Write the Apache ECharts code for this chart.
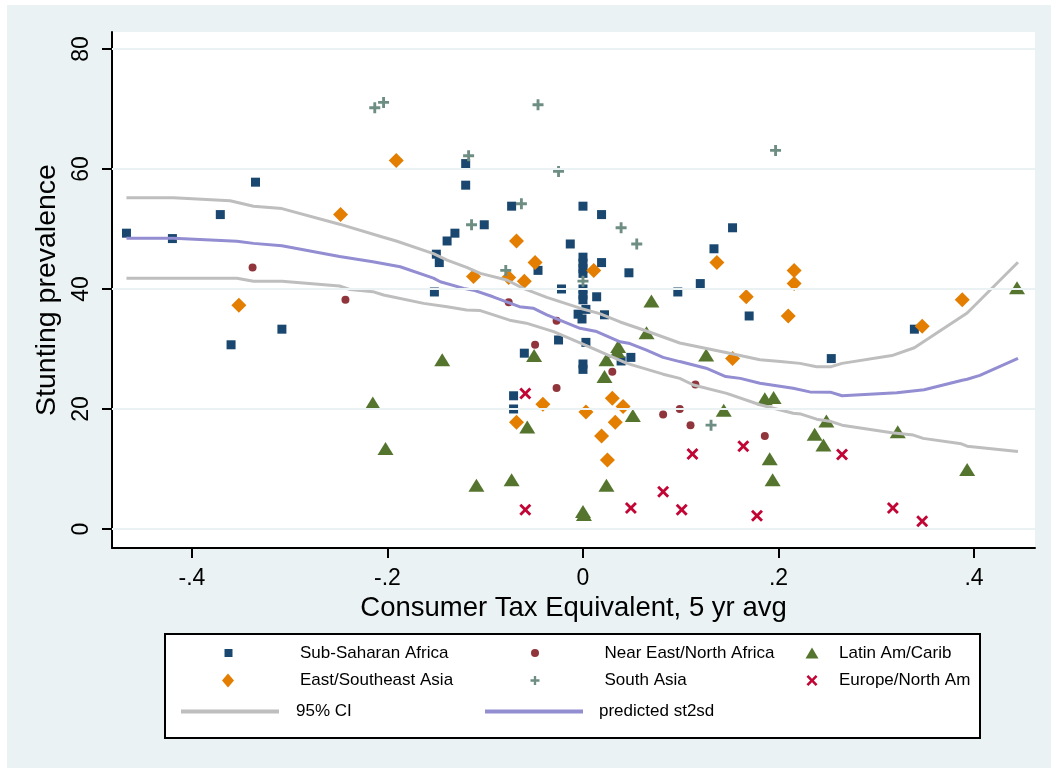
<!DOCTYPE html>
<html>
<head>
<meta charset="utf-8">
<title>Stunting prevalence vs Consumer Tax Equivalent</title>
<script src="https://cdn.jsdelivr.net/npm/echarts@6/dist/echarts.min.js"></script>
<style>
  html, body { margin: 0; padding: 0; background: #ffffff; }
  #chart { width: 1051px; height: 768px; }
</style>
</head>
<body>
<div id="chart"></div>
<script>
// Country observations: [consumer tax equivalent (5 yr avg), stunting prevalence]
const subSaharanAfrica = [
  [-0.467, 49.3], [-0.420, 48.4], [-0.335, 57.8], [-0.371, 52.4], [-0.308, 33.3], [-0.360, 30.7],
  [-0.120, 60.9], [-0.120, 57.3], [-0.073, 53.8], [-0.101, 50.7], [-0.131, 49.3], [-0.139, 48.0],
  [-0.013, 47.5], [-0.150, 45.8], [-0.147, 44.4], [-0.046, 43.1], [-0.022, 40.0], [-0.152, 39.5],
  [-0.025, 31.5], [-0.060, 29.3], [0.000, 53.8], [0.019, 52.4], [0.019, 44.4], [0.047, 42.7],
  [0.097, 39.5], [0.014, 38.7], [0.003, 36.6], [0.022, 35.7], [-0.005, 35.8], [-0.001, 35.0],
  [0.003, 31.1], [0.049, 28.6], [0.039, 28.0], [0.000, 27.5], [0.000, 26.6], [0.000, 45.3],
  [0.000, 44.3], [0.000, 43.4], [0.000, 42.6], [0.000, 40.0], [0.000, 39.0], [0.000, 38.2],
  [0.153, 50.2], [0.134, 46.7], [0.120, 40.9], [0.170, 35.5], [0.254, 28.4], [0.339, 33.3],
  [-0.071, 22.2], [-0.071, 20.0]
];
const nearEastNorthAfrica = [
  [-0.338, 43.6], [-0.243, 38.2], [-0.076, 37.8], [-0.027, 34.7], [-0.049, 30.7], [0.030, 26.2],
  [-0.027, 23.5], [0.115, 24.1], [0.082, 19.1], [0.099, 20.0], [0.110, 17.3], [0.186, 15.5]
];
const latinAmCarib = [
  [-0.144, 28.2], [-0.050, 28.9], [0.070, 38.0], [0.065, 32.7], [0.036, 30.4], [0.035, 29.6],
  [0.024, 28.2], [0.022, 25.4], [0.126, 29.0], [0.186, 21.7], [0.195, 21.9], [0.144, 19.8],
  [0.051, 18.9], [0.191, 11.7], [0.194, 8.2], [0.024, 7.3], [0.000, 2.9], [0.001, 2.4],
  [-0.215, 21.0], [-0.057, 17.0], [-0.202, 13.4], [-0.109, 7.3], [-0.073, 8.2], [0.249, 18.0],
  [0.237, 15.8], [0.246, 14.0], [0.322, 16.2], [0.393, 9.9], [0.444, 40.2]
];
const eastSoutheastAsia = [
  [-0.248, 52.4], [-0.352, 37.3], [-0.191, 61.4], [-0.068, 48.0], [-0.049, 44.4], [-0.112, 42.1],
  [-0.076, 41.9], [-0.060, 41.3], [0.011, 43.1], [0.137, 44.4], [0.216, 43.1], [0.216, 40.9],
  [0.167, 38.7], [0.210, 35.5], [0.153, 28.4], [0.347, 33.8], [0.388, 38.2], [0.030, 21.8],
  [0.003, 19.5], [0.041, 20.4], [0.033, 17.8], [0.019, 15.5], [0.025, 11.5], [-0.041, 20.8],
  [-0.068, 17.8]
];
const southAsia = [
  [-0.213, 70.2], [-0.204, 71.1], [-0.046, 70.7], [-0.117, 62.2], [-0.025, 59.6], [-0.063, 54.2],
  [-0.114, 50.7], [0.039, 50.2], [0.055, 47.5], [-0.079, 43.1], [0.000, 41.3], [0.197, 63.1],
  [0.131, 17.3]
];
const europeNorthAm = [
  [-0.059, 22.6], [-0.059, 3.2], [0.164, 13.8], [0.112, 12.5], [0.082, 6.2], [0.049, 3.5],
  [0.101, 3.2], [0.178, 2.2], [0.265, 12.4], [0.317, 3.5], [0.347, 1.3]
];

// Fitted curve and its 95% confidence band
const ciUpper = [
  [-0.467, 55.2], [-0.419, 55.2], [-0.361, 54.7], [-0.337, 53.8], [-0.308, 53.4], [-0.249, 50.8],
  [-0.206, 48.7], [-0.191, 48.0], [-0.153, 45.9], [-0.139, 44.8], [-0.119, 43.6], [-0.105, 42.6],
  [-0.078, 41.5], [-0.061, 40.1], [-0.037, 38.6], [-0.003, 36.8], [0.017, 35.9], [0.038, 34.5],
  [0.065, 33.0], [0.099, 31.0], [0.150, 29.3], [0.181, 28.2], [0.202, 27.9], [0.222, 27.6],
  [0.239, 27.05], [0.254, 27.05], [0.265, 27.6], [0.316, 28.9], [0.339, 30.2], [0.393, 36.0],
  [0.445, 44.45]
];
const predicted = [
  [-0.467, 48.45], [-0.419, 48.45], [-0.354, 47.95], [-0.337, 47.6], [-0.308, 47.2], [-0.249, 45.4],
  [-0.215, 44.55], [-0.187, 43.7], [-0.153, 41.8], [-0.146, 41.2], [-0.122, 40.1], [-0.112, 39.8],
  [-0.092, 38.7], [-0.065, 37.05], [-0.051, 36.8], [-0.037, 35.7], [-0.003, 33.45], [0.014, 32.9],
  [0.038, 31.2], [0.048, 30.9], [0.065, 29.8], [0.082, 28.6], [0.099, 27.9], [0.126, 26.8],
  [0.146, 25.4], [0.161, 25.1], [0.181, 24.3], [0.215, 23.45], [0.232, 22.85], [0.253, 22.8],
  [0.265, 22.2], [0.321, 22.7], [0.349, 23.2], [0.388, 24.8], [0.393, 24.95], [0.406, 25.6],
  [0.445, 28.45]
];
const ciLower = [
  [-0.467, 41.8], [-0.354, 41.8], [-0.337, 41.3], [-0.308, 41.3], [-0.249, 40.5], [-0.238, 39.9],
  [-0.215, 39.55], [-0.204, 39.0], [-0.163, 37.6], [-0.139, 37.05], [-0.119, 36.5], [-0.105, 36.4],
  [-0.075, 34.8], [-0.058, 34.3], [-0.030, 32.9], [-0.003, 31.0], [0.014, 29.8], [0.045, 27.6],
  [0.082, 25.8], [0.099, 25.1], [0.113, 24.0], [0.147, 22.6], [0.181, 20.7], [0.215, 19.3],
  [0.223, 19.15], [0.239, 18.3], [0.254, 17.9], [0.265, 17.3], [0.316, 16.05], [0.338, 15.65],
  [0.348, 15.1], [0.387, 14.2], [0.393, 13.8], [0.445, 12.9]
];

// Axis ticks and their printed labels
const xTicks = [-0.4, -0.2, 0, 0.2, 0.4];
const xTickLabels = ['-.4', '-.2', '0', '.2', '.4'];
const yTicks = [0, 20, 40, 60, 80];

const FONT = '"Liberation Sans", Arial, Helvetica, sans-serif';
const PLUS = 'path://M3.7,0H6.3V3.7H10V6.3H6.3V10H3.7V6.3H0V3.7H3.7Z';
const CROSS = 'path://M0,2L2,0L6,4L10,0L12,2L8,6L12,10L10,12L6,8L2,12L0,10L4,6Z';

const colors = {
  ssa: '#1a476f', nena: '#90353b', lac: '#55752f',
  esa: '#e37e00', sa: '#6e8e84', ena: '#c10534',
  ci: '#bebebe', fit: '#938dd2'
};

function scatter(name, data, symbol, size, color) {
  return {
    type: 'scatter', name, data, symbol, symbolSize: size,
    itemStyle: { color, opacity: 1 },
    emphasis: { disabled: true },
    animation: false, z: 2
  };
}
function curve(name, data, color) {
  return {
    type: 'line', name, data, symbol: 'none', showSymbol: false,
    lineStyle: { color, width: 3 }, itemStyle: { color },
    emphasis: { disabled: true },
    animation: false, z: 3
  };
}

// One legend block per entry so each key sits in its own cell of the three-column box.
// The text box (line height 20 + 2 top padding) is taller than every icon, so the
// icon centre lands 11px below `top`.
function legendItem(name, icon, cx, cy, w, h, textLeft) {
  return {
    data: [{ name, icon }],
    left: cx - w / 2, top: cy - 11, itemWidth: w, itemHeight: h, padding: 0,
    selectedMode: false, orient: 'horizontal',
    textStyle: {
      fontFamily: FONT, fontSize: 17, color: '#000', lineHeight: 20,
      padding: [2, 0, 0, textLeft - (cx + w / 2 + 5)]
    }
  };
}

const gridLineSeries = scatter('grid', [], 'none', 0, '#fff');
gridLineSeries.markLine = {
  silent: true, symbol: 'none', animation: false,
  label: { show: false },
  lineStyle: { color: '#eaf2f3', width: 2, type: 'solid' },
  emphasis: { disabled: true },
  data: yTicks.map(v => ({ yAxis: v }))
};
gridLineSeries.z = 1;

const option = {
  backgroundColor: '#eaf2f3',
  animation: false,
  textStyle: { fontFamily: FONT },
  grid: {
    left: 112, right: 16, top: 32, bottom: 220,
    show: true, backgroundColor: '#ffffff', borderWidth: 0,
    containLabel: false, outerBoundsMode: 'none'
  },
  xAxis: {
    type: 'value', min: -0.4818, max: 0.4624,
    name: 'Consumer Tax Equivalent, 5 yr avg',
    nameLocation: 'middle', nameGap: 41,
    nameTextStyle: { fontFamily: FONT, fontSize: 27.5, color: '#000' },
    axisLine: { show: true, onZero: false, lineStyle: { color: '#000', width: 2 } },
    axisTick: { show: true, length: 10, lineStyle: { color: '#000', width: 2 }, customValues: xTicks },
    axisLabel: {
      fontFamily: FONT, fontSize: 23, color: '#000', margin: 19,
      customValues: xTicks,
      formatter: v => {
        const i = xTicks.findIndex(t => Math.abs(t - v) < 1e-9);
        return i >= 0 ? xTickLabels[i] : '';
      }
    },
    splitLine: { show: false }
  },
  yAxis: {
    type: 'value', min: -3.17, max: 82.83,
    name: 'Stunting prevalence',
    nameLocation: 'middle', nameGap: 47,
    nameTextStyle: { fontFamily: FONT, fontSize: 28.5, color: '#000' },
    axisLine: { show: true, onZero: false, lineStyle: { color: '#000', width: 2 } },
    axisTick: { show: true, length: 10, lineStyle: { color: '#000', width: 2 }, customValues: yTicks },
    axisLabel: {
      fontFamily: FONT, fontSize: 23, color: '#000', margin: 19, rotate: 90,
      customValues: yTicks
    },
    splitLine: { show: false }
  },
  legend: [
    legendItem('Sub-Saharan Africa', 'rect', 228.5, 653, 8, 8, 300),
    legendItem('Near East/North Africa', 'circle', 535, 653, 8, 8, 604.5),
    legendItem('Latin Am/Carib', 'triangle', 812, 653, 13, 11, 839),
    legendItem('East/Southeast Asia', 'diamond', 228, 680.5, 12, 14, 300),
    legendItem('South Asia', PLUS, 535, 680.5, 9, 9, 604.5),
    legendItem('Europe/North Am', CROSS, 812, 680.5, 11, 11, 839),
    legendItem('95% CI', 'rect', 230, 711.5, 98, 4, 296),
    legendItem('predicted st2sd', 'rect', 534, 711.5, 98, 4, 599)
  ],
  graphic: [
    { type: 'rect', left: 0, top: 0, shape: { width: 1051, height: 5 }, style: { fill: '#ffffff' }, silent: true },
    { type: 'rect', left: 0, top: 0, shape: { width: 7, height: 768 }, style: { fill: '#ffffff' }, silent: true },
    { type: 'rect', left: 164, top: 633, shape: { width: 815, height: 104 },
      style: { fill: '#ffffff', stroke: '#000000', lineWidth: 2 }, silent: true, z: -1 }
  ],
  series: [
    gridLineSeries,
    scatter('Sub-Saharan Africa', subSaharanAfrica, 'rect', 9, colors.ssa),
    scatter('Near East/North Africa', nearEastNorthAfrica, 'circle', 8, colors.nena),
    scatter('Latin Am/Carib', latinAmCarib, 'triangle', [16, 13], colors.lac),
    scatter('East/Southeast Asia', eastSoutheastAsia, 'diamond', [15, 15], colors.esa),
    scatter('South Asia', southAsia, PLUS, 11, colors.sa),
    scatter('Europe/North Am', europeNorthAm, CROSS, 12, colors.ena),
    curve('95% CI', ciUpper, colors.ci),
    curve('95% CI', ciLower, colors.ci),
    curve('predicted st2sd', predicted, colors.fit)
  ]
};

const chart = echarts.init(document.getElementById('chart'), null, { renderer: 'canvas' });
chart.setOption(option);
</script>
</body>
</html>
